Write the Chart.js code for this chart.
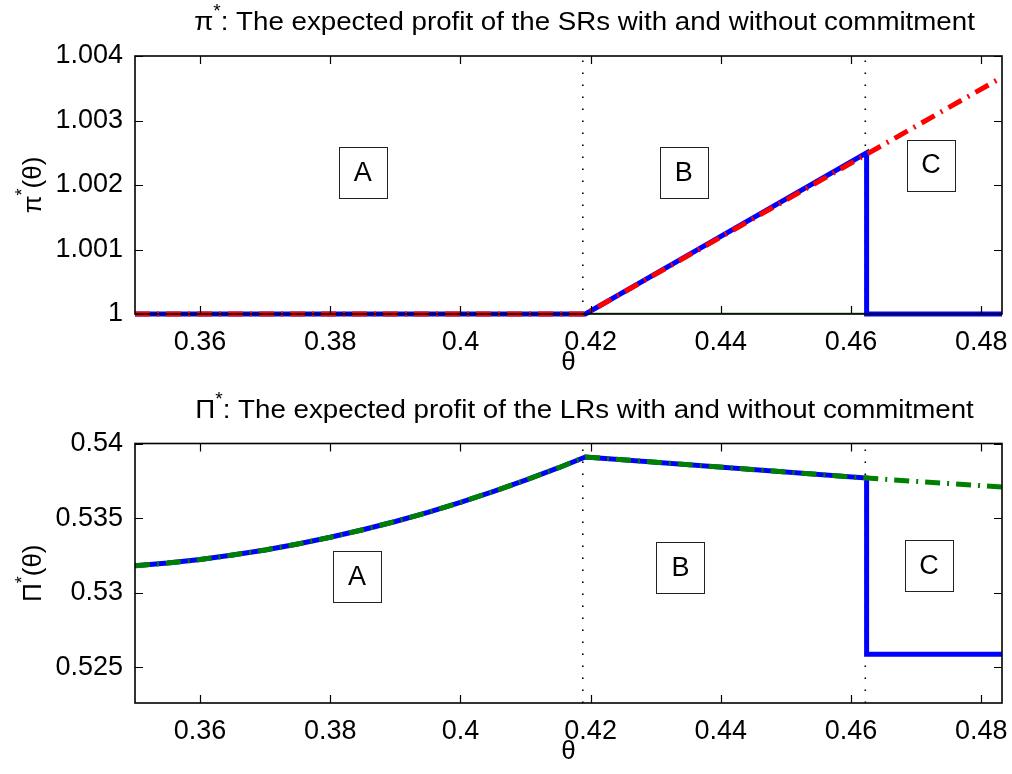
<!DOCTYPE html>
<html>
<head>
<meta charset="utf-8">
<script src="https://cdn.jsdelivr.net/npm/chart.js@4.4.1/dist/chart.umd.min.js"></script>
<style>
  html, body { margin: 0; padding: 0; background: #fff; }
  #wrap { position: relative; width: 1012px; height: 774px; }
  .pane { position: absolute; left: 0; width: 1012px; height: 387px; }
</style>
</head>
<body>
<div id="wrap">
  <div class="pane" style="top:0"><canvas id="topChart"></canvas></div>
  <div class="pane" style="top:387px"><canvas id="botChart"></canvas></div>
</div>
<script>
// ---- data ----
const xTicks = [0.36, 0.38, 0.40, 0.42, 0.44, 0.46, 0.48];
const topYTicks = [1, 1.001, 1.002, 1.003, 1.004];
const botYTicks = [0.525, 0.53, 0.535, 0.54];
const dividerX = [0.4188, 0.4622];

// top panel: pi*(theta)
const topThetaBlue = [0.35, 0.4192, 0.4624, 0.4624, 0.4832];
const topPiBlue    = [1, 1, 1.0025, 1, 1];
const topThetaRed  = [0.35, 0.4192, 0.4832];
const topPiRed     = [1, 1, 1.00367];
const topThetaGreen = [0.35, 0.4832];
const topPiGreen    = [1, 1];

// bottom panel: Pi*(theta)
const botThetaCurve = [0.35, 0.355, 0.36, 0.365, 0.37, 0.375, 0.38, 0.385, 0.39,
                       0.395, 0.40, 0.405, 0.41, 0.415, 0.4192, 0.4624];
const botPiCurve    = [0.5318, 0.53198, 0.53222, 0.53252, 0.53286, 0.53326, 0.53371, 0.53422, 0.53477,
                       0.53538, 0.53605, 0.53677, 0.53754, 0.53836, 0.5391, 0.53768];
const botThetaBlueTail = [0.4624, 0.4832];
const botPiBlueTail    = [0.52587, 0.52587];
const botThetaGreenTail = [0.4832];
const botPiGreenTail    = [0.53708];

// region labels
const topBoxes = [{ t: 'A', x: 0.385, y: 1.00219 }, { t: 'B', x: 0.4343, y: 1.00219 }, { t: 'C', x: 0.4723, y: 1.00231 }];
const botBoxes = [{ t: 'A', x: 0.3841, y: 0.53111 }, { t: 'B', x: 0.4338, y: 0.53171 }, { t: 'C', x: 0.4720, y: 0.53185 }];

const FONT = '"Liberation Sans", Arial, Helvetica, sans-serif';
const BLUE = '#0000ff', RED = '#ff0000', GREEN = '#008000';

function pts(xs, ys) { return xs.map((x, i) => ({ x: x, y: ys[i] })); }
function fmt(v) { return String(Number(v.toFixed(4))); }

function dividers(yMin, yMax) {
  return dividerX.map(v => ({
    data: [{ x: v, y: yMin }, { x: v, y: yMax }],
    borderColor: '#000', borderWidth: 1.6, borderDash: [1.6, 10.4],
    pointRadius: 0, showLine: true
  }));
}

// draws a string made of parts: {s, sup}; sx stretches it horizontally
function drawParts(ctx, parts, cx, cy, size, sx) {
  const supSize = Math.round(size * 0.7);
  let w = 0;
  parts.forEach(p => {
    ctx.font = (p.sup ? supSize : size) + 'px ' + FONT;
    p.w = ctx.measureText(p.s).width;
    w += p.w;
  });
  ctx.save();
  ctx.translate(cx, cy);
  ctx.scale(sx || 1, 1);
  let x = -w / 2;
  ctx.textAlign = 'left';
  ctx.textBaseline = 'middle';
  parts.forEach(p => {
    ctx.font = (p.sup ? supSize : size) + 'px ' + FONT;
    ctx.fillText(p.s, x, p.sup ? -size * 0.42 : 0);
    x += p.w;
  });
  ctx.restore();
}

const decorPlugin = {
  id: 'decor',
  afterDraw(chart, args, o) {
    const { ctx, chartArea: a, scales: { x, y } } = chart;
    ctx.save();
    ctx.fillStyle = '#000';
    ctx.strokeStyle = '#000';

    // inward tick marks on all four sides
    ctx.lineWidth = 1.2;
    ctx.beginPath();
    xTicks.forEach(v => {
      const px = Math.round(x.getPixelForValue(v)) + 0.5;
      ctx.moveTo(px, a.bottom); ctx.lineTo(px, a.bottom - 8);
      ctx.moveTo(px, a.top); ctx.lineTo(px, a.top + 8);
    });
    o.yTicks.forEach(v => {
      const py = Math.round(y.getPixelForValue(v)) + 0.5;
      ctx.moveTo(a.left, py); ctx.lineTo(a.left + 8, py);
      ctx.moveTo(a.right, py); ctx.lineTo(a.right - 8, py);
    });
    ctx.stroke();

    // axes box
    ctx.lineWidth = 1.6;
    ctx.strokeRect(a.left, a.top, a.width, a.height);

    // region label boxes
    o.boxes.forEach(b => {
      const cx = x.getPixelForValue(b.x), cy = y.getPixelForValue(b.y);
      const bw = 48, bh = 51;
      ctx.fillStyle = '#fff';
      ctx.fillRect(cx - bw / 2, cy - bh / 2, bw, bh);
      ctx.lineWidth = 1;
      ctx.strokeStyle = '#222';
      ctx.strokeRect(Math.round(cx - bw / 2) + 0.5, Math.round(cy - bh / 2) + 0.5, bw, bh);
      ctx.fillStyle = '#000';
      ctx.font = '27px ' + FONT;
      ctx.textAlign = 'center';
      ctx.textBaseline = 'middle';
      ctx.fillText(b.t, cx, cy + 1);
    });

    // title (sits a little right of the axes centre in the reference)
    const mid = (a.left + a.right) / 2;
    drawParts(ctx, o.title, mid + 16, a.top - 33, 26, 1.065);

    // x label
    ctx.font = '26px ' + FONT;
    ctx.textAlign = 'center';
    ctx.textBaseline = 'middle';
    ctx.fillText('\u03b8', mid, a.bottom + 49);

    // y label, rotated
    ctx.translate(34, (a.top + a.bottom) / 2);
    ctx.rotate(-Math.PI / 2);
    drawParts(ctx, o.ylabel, 0, 0, 26, 1);
    ctx.restore();
  }
};

function makeChart(id, datasets, yMin, yMax, yTicks, xAxisH, padTop, decor) {
  return new Chart(document.getElementById(id), {
    type: 'scatter',
    data: { datasets: datasets },
    plugins: [decorPlugin],
    options: {
      responsive: true,
      maintainAspectRatio: false,
      animation: false,
      layout: { padding: { top: padTop, right: 10, left: 0, bottom: 0 } },
      plugins: { legend: { display: false }, tooltip: { enabled: false }, decor: decor },
      elements: { line: { tension: 0, borderCapStyle: 'butt', borderJoinStyle: 'miter' } },
      scales: {
        x: {
          type: 'linear', min: 0.35, max: 0.4832,
          grid: { display: false }, border: { display: false },
          afterBuildTicks: s => { s.ticks = xTicks.map(v => ({ value: v })); },
          afterFit: s => { s.height = xAxisH; },
          ticks: { color: '#000', font: { family: FONT, size: 27 }, padding: 4, maxRotation: 0, callback: fmt }
        },
        y: {
          type: 'linear', min: yMin, max: yMax,
          grid: { display: false }, border: { display: false },
          afterBuildTicks: s => { s.ticks = yTicks.map(v => ({ value: v })); },
          afterFit: s => { s.width = 135; },
          ticks: { color: '#000', font: { family: FONT, size: 27 }, padding: 4, callback: fmt }
        }
      }
    }
  });
}

// top: drawn in reverse order, so the first dataset ends up on top
makeChart('topChart', [
  { data: pts(topThetaRed, topPiRed), borderColor: RED, borderWidth: 5, borderDash: [15, 7, 2, 7], pointRadius: 0, showLine: true, clip: false },
  { data: pts(topThetaBlue, topPiBlue), borderColor: BLUE, borderWidth: 5, pointRadius: 0, showLine: true, clip: false },
  { data: pts(topThetaGreen, topPiGreen), borderColor: '#1b6b1b', borderWidth: 2.5, pointRadius: 0, showLine: true },
  ...dividers(1, 1.004)
], 1, 1.004, topYTicks, 73, 56, {
  yTicks: topYTicks, boxes: topBoxes,
  title: [{ s: '\u03c0' }, { s: '*', sup: true }, { s: ': The expected profit of the SRs with and without commitment' }],
  ylabel: [{ s: '\u03c0' }, { s: '*', sup: true }, { s: '(\u03b8)' }]
});

makeChart('botChart', [
  { data: pts(botThetaCurve.concat(botThetaGreenTail), botPiCurve.concat(botPiGreenTail)), borderColor: GREEN, borderWidth: 5, borderDash: [15, 7, 2, 7], pointRadius: 0, showLine: true },
  { data: pts(botThetaCurve.concat(botThetaBlueTail), botPiCurve.concat(botPiBlueTail)), borderColor: BLUE, borderWidth: 5, pointRadius: 0, showLine: true },
  ...dividers(0.5226, 0.54)
], 0.5226, 0.54, botYTicks, 71, 56.5, {
  yTicks: botYTicks, boxes: botBoxes,
  title: [{ s: '\u03a0' }, { s: '*', sup: true }, { s: ': The expected profit of the LRs with and without commitment' }],
  ylabel: [{ s: '\u03a0' }, { s: '*', sup: true }, { s: '(\u03b8)' }]
});
</script>
</body>
</html>
